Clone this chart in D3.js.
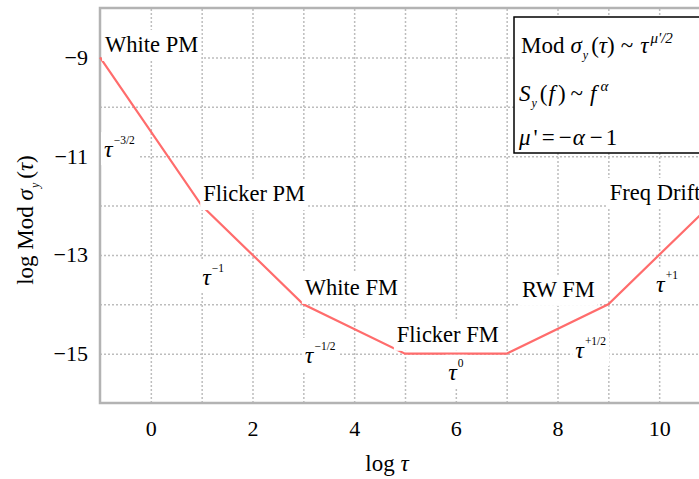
<!DOCTYPE html>
<html>
<head>
<meta charset="utf-8">
<script src="https://cdn.jsdelivr.net/npm/d3@7"></script>
<style>
  body { margin: 0; background: #fff; }
  svg { display: block; }
  svg text { font-family: "Liberation Serif", "Times New Roman", serif; fill: #000; }
  .grid line { stroke: #bdbdbd; stroke-width: 1.5; stroke-dasharray: 2,2; }
  .grid .domain { display: none; }
  .tick-label .domain, .tick-label line { display: none; }
</style>
</head>
<body>
<div id="chart"></div>
<script>
// log tau breakpoints and log Mod sigma_y at those points
var logTau = [-1, 1, 3, 5, 7, 9, 11];
var logSigma = [-9, -12, -14, -15, -15, -14, -12];

// noise types and where their names sit (data units)
var noiseNames = ["White PM", "Flicker PM", "White FM", "Flicker FM", "RW FM", "Freq Drift"];
var nameAt = [[-0.9, -8.89], [1.03, -11.91], [3.03, -13.81], [4.84, -14.76], [7.3, -13.85], [9.03, -11.89]];

// slope exponents shown as tau powers
var slopeExps = ["\u22123/2", "\u22121", "\u22121/2", "0", "+1/2", "+1"];
var slopeAt = [[-0.92, -11.02], [1.01, -13.61], [3.03, -15.19], [5.85, -15.53], [8.35, -15.09], [9.94, -13.75]];

// tick labels
var xTicks = [0, 2, 4, 6, 8, 10];
var yTicks = [-9, -11, -13, -15];

var W = 699, H = 479;
var padL = 100, padT = 8, padB = 403, padR = 710;
var serif = "'Liberation Serif', 'Times New Roman', serif";

var svg = d3.select("#chart").append("svg")
    .attr("width", W)
    .attr("height", H);

var x = d3.scaleLinear().domain([-1, 11]).range([padL, padR]);
var y = d3.scaleLinear().domain([-16, -8]).range([padB, padT]);

//grid lines
svg.append("g")
    .attr("class", "grid")
    .attr("transform", "translate(0," + padB + ")")
    .call(d3.axisBottom(x).tickValues(d3.range(0, 11)).tickSize(-(padB - padT)).tickFormat(""));
svg.append("g")
    .attr("class", "grid")
    .attr("transform", "translate(" + padL + ",0)")
    .call(d3.axisLeft(y).tickValues(d3.range(-15, -8)).tickSize(-(padR - padL)).tickFormat(""));

//tick labels
var fmt = function(d){ return d < 0 ? "\u2212" + Math.abs(d) : d; };
svg.append("g")
    .attr("class", "tick-label")
    .attr("transform", "translate(0," + padB + ")")
    .call(d3.axisBottom(x).tickValues(xTicks).tickSize(0).tickPadding(17).tickFormat(fmt))
    .attr("font-family", serif)
    .attr("font-size", 22);
svg.append("g")
    .attr("class", "tick-label")
    .attr("transform", "translate(" + padL + ",0)")
    .call(d3.axisLeft(y).tickValues(yTicks).tickSize(0).tickPadding(12).tickFormat(fmt))
    .attr("font-family", serif)
    .attr("font-size", 22);

//frame
svg.append("path")
    .attr("d", "M" + padR + "," + padT + "H" + padL + "V" + padB + "H" + padR)
    .attr("fill", "none")
    .attr("stroke", "#b3b3b3")
    .attr("stroke-width", 2.5);

//the curve
var pts = logTau.map(function(d, i){ return [d, logSigma[i]]; });
svg.append("path")
    .datum(pts)
    .attr("fill", "none")
    .attr("stroke", "#ff6c6c")
    .attr("stroke-width", 2.2)
    .attr("d", d3.line().x(function(d){ return x(d[0]); }).y(function(d){ return y(d[1]); }));

//label helper, draws a white box behind text
function withBox(g, padX, padTop, padBot){
    var b = g.node().getBBox();
    g.insert("rect", ":first-child")
        .attr("x", b.x - padX)
        .attr("y", b.y - padTop)
        .attr("width", b.width + padX * 2)
        .attr("height", b.height + padTop + padBot)
        .attr("fill", "#fff");
}

// parts: [text, italic?, size, dy, dx]
function addParts(t, parts){
    parts.forEach(function(p){
        var s = t.append("tspan").text(p[0]);
        if(p[1] === "i") s.attr("font-style", "italic");
        if(p[2]) s.attr("font-size", p[2]);
        if(p[3]) s.attr("dy", p[3]);
        if(p[4]) s.attr("dx", p[4]);
    });
}

noiseNames.forEach(function(name, i){
    var g = svg.append("g");
    g.append("text")
        .attr("x", x(nameAt[i][0]))
        .attr("y", y(nameAt[i][1]))
        .attr("font-size", 22.5)
        .text(name);
    withBox(g, 3, 2, 4);
});

slopeExps.forEach(function(e, i){
    var g = svg.append("g");
    var t = g.append("text")
        .attr("x", x(slopeAt[i][0]))
        .attr("y", y(slopeAt[i][1]))
        .attr("font-size", 24);
    t.append("tspan").attr("font-style", "italic").text("\u03c4");
    t.append("tspan").attr("font-size", 11.5).attr("dy", -13).attr("dx", 1).text(e);
    withBox(g, 3, 2, 3);
});

//legend box
var lg = svg.append("g").attr("transform", "translate(514,17)");
lg.append("rect")
    .attr("width", 200)
    .attr("height", 136)
    .attr("fill", "#fff")
    .attr("stroke", "#000")
    .attr("stroke-width", 1.5);

var l1 = lg.append("text").attr("x", 7).attr("y", 36).attr("font-size", 23);
addParts(l1, [["Mod"], ["\u03c3", "i", 0, 0, 6], ["y", "i", 12, 6, 1], ["(", "", 23, -6, 3], ["\u03c4", "i"], [")"],
              ["~", "", 0, 0, 6], ["\u03c4", "i", 0, 0, 7], ["\u03bc'/2", "i", 15, -10, 2]]);
var l2 = lg.append("text").attr("x", 5).attr("y", 84).attr("font-size", 23);
addParts(l2, [["S", "i"], ["y", "i", 12, 6, 1], ["(", "", 23, -6, 3], ["f", "i", 0, 0, 1], [")", "", 0, 0, 3],
              ["~", "", 0, 0, 5], ["f", "i", 0, 0, 7], ["\u03b1", "i", 15, -10, 4]]);
var l3 = lg.append("text").attr("x", 5).attr("y", 128).attr("font-size", 23);
addParts(l3, [["\u03bc", "i"], ["'", "", 0, 0, 3], ["=", "", 0, 0, 4], ["\u2212", "", 0, 0, 4], ["\u03b1", "i", 0, 0, 1], ["\u2212", "", 0, 0, 5], ["1", "", 0, 0, 3]]);

//axis titles
var xt = svg.append("text")
    .attr("x", 387)
    .attr("y", 471)
    .attr("text-anchor", "middle")
    .attr("font-size", 23);
addParts(xt, [["log "], ["\u03c4", "i"]]);

var yt = svg.append("text")
    .attr("transform", "translate(33,220) rotate(-90)")
    .attr("text-anchor", "middle")
    .attr("font-size", 23);
addParts(yt, [["log Mod "], ["\u03c3", "i"], ["y", "i", 12, 6, 1], ["(", "", 23, -6, 4], ["\u03c4", "i"], [")"]]);
</script>
</body>
</html>
